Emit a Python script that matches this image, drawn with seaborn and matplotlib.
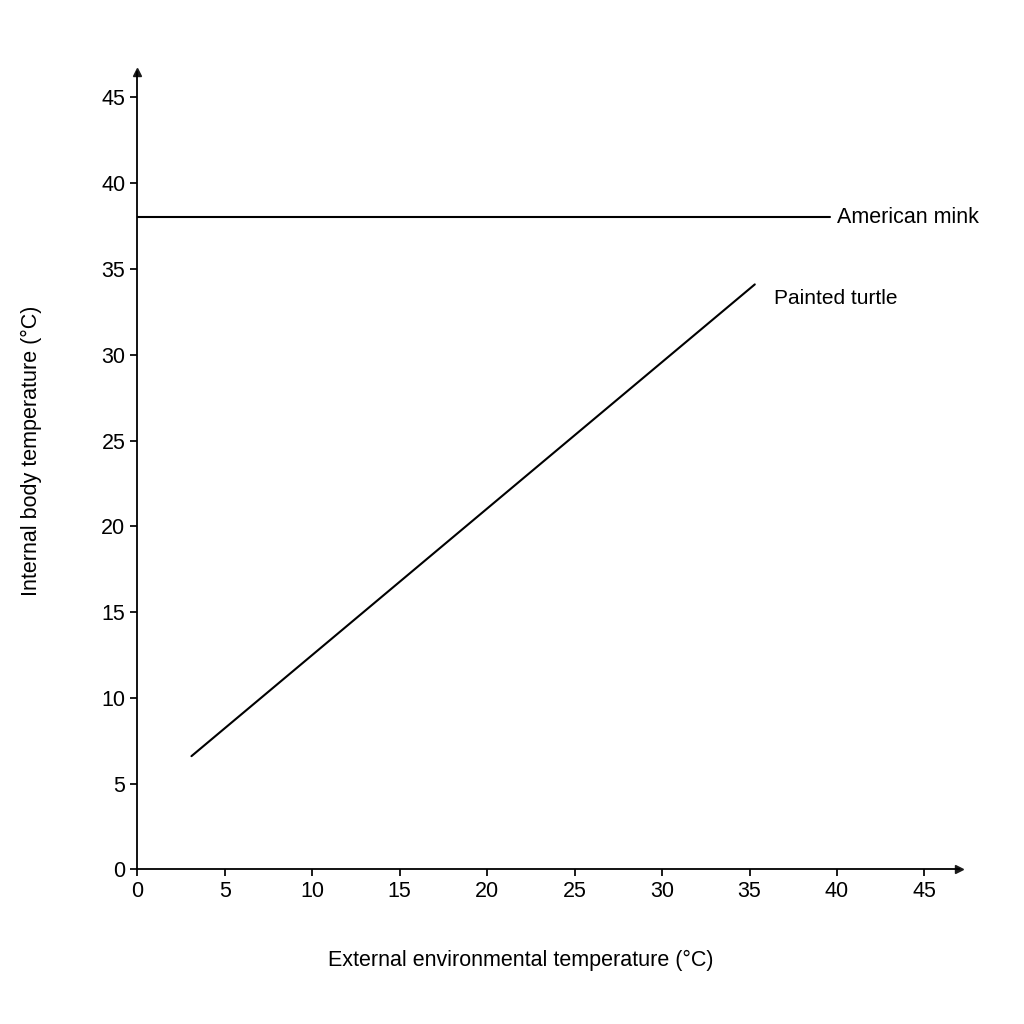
import matplotlib
matplotlib.use("Agg")
import matplotlib.pyplot as plt
import seaborn as sns
import pandas as pd

sns.set_theme(style="white")
plt.rcParams['font.family'] = ['Liberation Sans', 'DejaVu Sans']
plt.rcParams['text.color'] = 'black'
plt.rcParams['axes.labelcolor'] = 'black'
plt.rcParams['xtick.color'] = 'black'
plt.rcParams['ytick.color'] = 'black'

mink_x = [0, 39.6]
mink_y = [38, 38]
turtle_x = [3.1, 35.3]
turtle_y = [6.6, 34.1]
ticks = [0, 5, 10, 15, 20, 25, 30, 35, 40, 45]

fig = plt.figure(figsize=(10.24, 10.24), dpi=100)
ax = fig.add_axes([0.134, 0.151, 0.803, 0.779])

sns.lineplot(x=mink_x, y=mink_y, ax=ax, color="black", lw=1.5)
sns.lineplot(x=turtle_x, y=turtle_y, ax=ax, color="black", lw=1.5)
ax.text(40.0, 38, "American mink", va="center", ha="left", fontsize=15.5)
ax.text(36.4, 33.3, "Painted turtle", va="center", ha="left", fontsize=15)

ax.set_xlim(0, 47)
ax.set_ylim(0, 46.5)
ax.set_xticks(ticks)
ax.set_yticks(ticks)
ax.tick_params(axis="both", labelsize=15.5, length=5, direction="out", bottom=True, left=True, color="black")
for s in ["top", "right"]:
    ax.spines[s].set_visible(False)
for s in ["left", "bottom"]:
    ax.spines[s].set_color("black")
    ax.spines[s].set_linewidth(1.3)
ax.plot(1, 0, ">k", transform=ax.transAxes, clip_on=False, ms=6)
ax.plot(0, 1, "^k", transform=ax.transAxes, clip_on=False, ms=6)
ax.set_xlabel("External environmental temperature (°C)", fontsize=15.5)
ax.set_ylabel("Internal body temperature (°C)", fontsize=15.5)
ax.xaxis.set_label_coords((520 - 137) / 822, -(950 - 869) / 798)
ax.yaxis.set_label_coords(-(137 - 42) / 822, (869 - 450) / 798)
fig.savefig("out.png", dpi=100)
